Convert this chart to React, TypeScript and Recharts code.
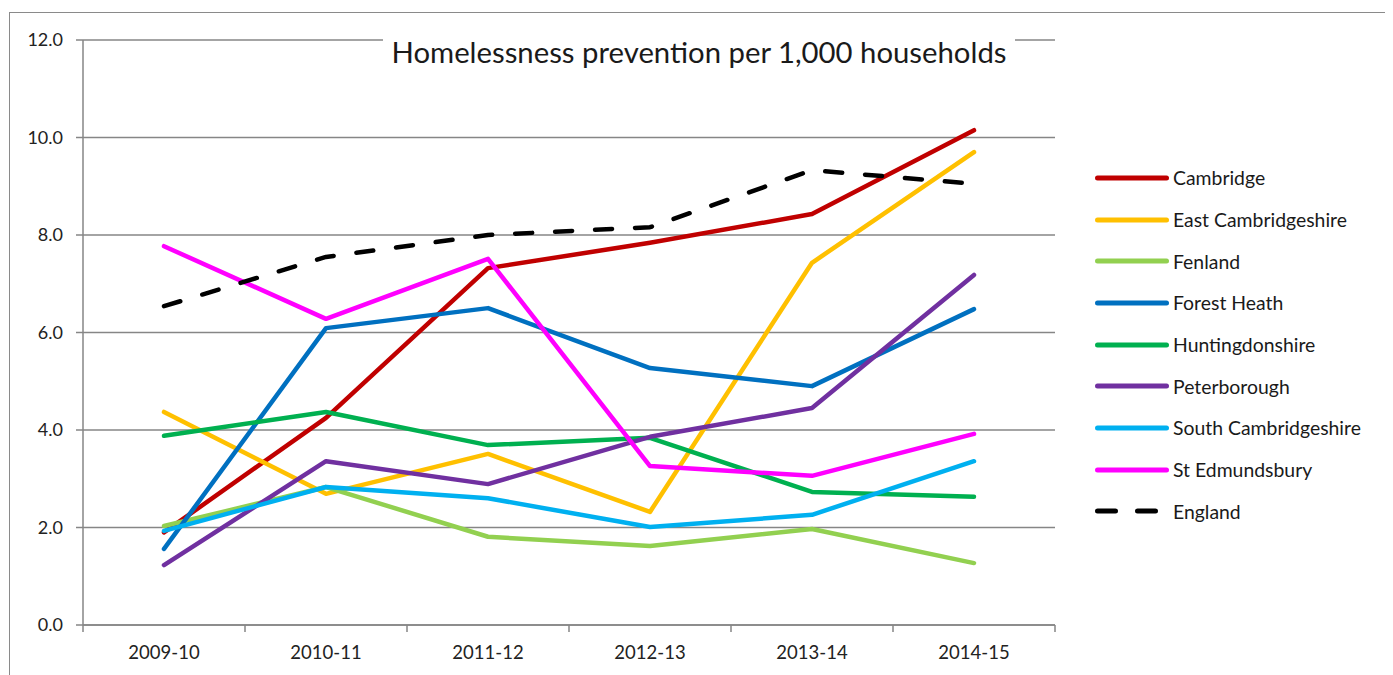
import React from "react";
import { LineChart, Line, XAxis, YAxis, CartesianGrid } from "recharts";

const years = ["2009-10", "2010-11", "2011-12", "2012-13", "2013-14", "2014-15"];
const cambridge = [1.9, 4.25, 7.32, 7.84, 8.43, 10.15];
const eastCambridgeshire = [4.37, 2.69, 3.51, 2.32, 7.43, 9.7];
const fenland = [2.03, 2.83, 1.81, 1.62, 1.97, 1.27];
const forestHeath = [1.56, 6.09, 6.5, 5.27, 4.9, 6.48];
const huntingdonshire = [3.88, 4.37, 3.69, 3.84, 2.73, 2.63];
const peterborough = [1.23, 3.36, 2.89, 3.86, 4.45, 7.18];
const southCambridgeshire = [1.93, 2.83, 2.6, 2.01, 2.26, 3.36];
const stEdmundsbury = [7.77, 6.28, 7.51, 3.26, 3.06, 3.92];
const england = [6.54, 7.55, 8.0, 8.16, 9.33, 9.05];
const yTicks = [0, 2, 4, 6, 8, 10, 12];

const series = [
  { key: "Cambridge", values: cambridge, color: "#C00000", dashed: false },
  { key: "East Cambridgeshire", values: eastCambridgeshire, color: "#FFC000", dashed: false },
  { key: "Fenland", values: fenland, color: "#92D050", dashed: false },
  { key: "Forest Heath", values: forestHeath, color: "#0070C0", dashed: false },
  { key: "Huntingdonshire", values: huntingdonshire, color: "#00B050", dashed: false },
  { key: "Peterborough", values: peterborough, color: "#7030A0", dashed: false },
  { key: "South Cambridgeshire", values: southCambridgeshire, color: "#00B0F0", dashed: false },
  { key: "St Edmundsbury", values: stEdmundsbury, color: "#FF00FF", dashed: false },
  { key: "England", values: england, color: "#000000", dashed: true },
];

const data = years.map((y, i) => {
  const row: Record<string, any> = { year: y };
  series.forEach((s) => (row[s.key] = s.values[i]));
  return row;
});

const FONT = "Lato, 'Open Sans', sans-serif";
const AXIS = "#868686";
const TICK_SIZE = 7;
const TICK_MARGIN = 14;

const XTick = (props: any) => {
  const { x, y, payload, index, visibleTicksCount } = props;
  const off = payload && payload.offset ? payload.offset : 81;
  const y0 = y - TICK_MARGIN - TICK_SIZE;
  const last = index === (visibleTicksCount ?? years.length) - 1;
  return (
    <g>
      <line x1={x - off} y1={y0} x2={x - off} y2={y0 + TICK_SIZE} stroke={AXIS} strokeWidth={1.5} />
      {last && (
        <line x1={x + off} y1={y0} x2={x + off} y2={y0 + TICK_SIZE} stroke={AXIS} strokeWidth={1.5} />
      )}
      <text x={x} y={y} dy="0.71em" textAnchor="middle" fill="#222" fontSize={18.5} fontFamily={FONT}>
        {payload.value}
      </text>
    </g>
  );
};

export default function App() {
  return (
    <div style={{ position: "relative", width: 1385, height: 667, overflow: "hidden", fontFamily: FONT }}>
      <div
        style={{
          position: "absolute",
          left: 1,
          top: 4,
          width: 1378,
          height: 700,
          border: "1.5px solid #8a8a8a",
          boxSizing: "border-box",
        }}
      />
      <div style={{ position: "absolute", left: 0, top: 0 }}>
        <LineChart width={1385} height={667} data={data} margin={{ top: 32, right: 338, bottom: 20, left: 0 }}>
          <CartesianGrid horizontal vertical={false} stroke={AXIS} strokeWidth={1.5} />
          <XAxis
            dataKey="year"
            scale="band"
            axisLine={{ stroke: AXIS, strokeWidth: 1.5 }}
            tickLine={false}
            tickSize={TICK_SIZE}
            tickMargin={TICK_MARGIN}
            height={30}
            interval={0}
            tick={<XTick />}
          />
          <YAxis
            width={75}
            domain={[0, 12]}
            ticks={yTicks}
            interval={0}
            tickFormatter={(v: number) => v.toFixed(1)}
            axisLine={{ stroke: AXIS, strokeWidth: 1.5 }}
            tickLine={{ stroke: AXIS, strokeWidth: 1.5 }}
            tickSize={TICK_SIZE}
            tickMargin={13}
            tick={{ fill: "#222", fontSize: 18, fontFamily: FONT }}
          />
          {series.map((s) => (
            <Line
              key={s.key}
              dataKey={s.key}
              stroke={s.color}
              strokeWidth={4.5}
              strokeDasharray={s.dashed ? "17 23" : undefined}
              strokeLinecap="round"
              strokeLinejoin="round"
              dot={false}
              activeDot={false}
              isAnimationActive={false}
            />
          ))}
        </LineChart>
      </div>
      <div
        style={{
          position: "absolute",
          left: 375,
          top: 19,
          width: 632,
          height: 50,
          background: "#fff",
          textAlign: "center",
          lineHeight: "50px",
          fontSize: 29.3,
          color: "#1a1a1a",
          whiteSpace: "nowrap",
        }}
      >
        Homelessness prevention per 1,000 households
      </div>
      <div style={{ position: "absolute", left: 1087, top: 149 }}>
        {series.map((s) => (
          <div key={s.key} style={{ height: 41.7, display: "flex", alignItems: "center" }}>
            <svg width={74} height={10} style={{ display: "block" }}>
              <line
                x1={2.5}
                y1={5}
                x2={71.5}
                y2={5}
                stroke={s.color}
                strokeWidth={5}
                strokeLinecap="round"
                strokeDasharray={s.dashed ? "18 22" : undefined}
              />
            </svg>
            <span style={{ marginLeft: 4, fontSize: 19.4, color: "#1a1a1a", whiteSpace: "nowrap" }}>{s.key}</span>
          </div>
        ))}
      </div>
    </div>
  );
}
